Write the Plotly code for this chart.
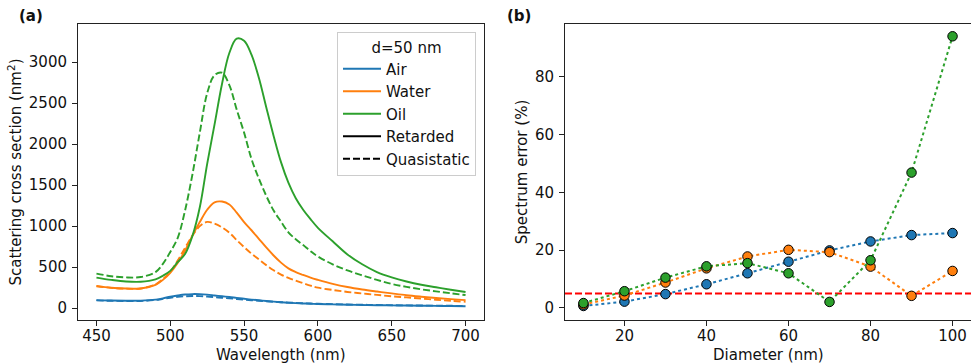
import plotly.graph_objects as go

# ---------------- Panel (a) data ----------------
wavelength = [450, 460, 470, 480, 490, 495, 500, 505, 510, 515, 520, 525, 530, 535, 540,
              545, 550, 555, 560, 565, 570, 575, 580, 585, 590, 595, 600, 610, 620, 630, 640, 650,
              660, 670, 680, 690, 700]

air_ret = [98, 93, 91, 92, 104, 120, 140, 155, 167, 172, 171, 165, 155, 145, 136,
           125, 115, 105, 96, 88, 80, 73, 67, 62, 58, 54, 51, 47, 42, 39, 36, 34,
           32, 30, 28, 26, 24]
air_qs = [95, 90, 87, 88, 100, 113, 127, 138, 145, 148, 147, 142, 135, 127, 120,
          112, 104, 97, 90, 84, 78, 73, 68, 64, 60, 57, 54, 49, 45, 42, 39, 36,
          34, 32, 31, 29, 28]
water_ret = [272, 250, 240, 240, 285, 345, 430, 550, 700, 885, 1050, 1200, 1290, 1300, 1265,
             1165, 1050, 950, 845, 740, 642, 555, 485, 440, 405, 372, 345, 297, 258, 228, 203, 180,
             158, 140, 124, 110, 98]
water_qs = [268, 248, 238, 240, 290, 355, 445, 580, 735, 885, 1000, 1052, 1030, 985, 920,
            830, 745, 665, 595, 525, 462, 410, 370, 335, 305, 275, 250, 222, 198, 180, 162, 145,
            132, 118, 103, 90, 78]
oil_ret = [373, 345, 325, 322, 352, 395, 455, 560, 660, 880, 1230, 1760, 2240, 2730, 3110,
           3285, 3260, 3090, 2810, 2450, 2100, 1780, 1530, 1340, 1200, 1085, 980, 815, 655, 535, 440, 375,
           325, 285, 255, 225, 197]
oil_qs = [422, 390, 375, 380, 440, 540, 685, 855, 1190, 1630, 2140, 2620, 2840, 2870, 2720,
          2420, 2140, 1820, 1580, 1370, 1190, 1055, 925, 840, 770, 695, 630, 535, 460, 400, 345, 295,
          260, 230, 205, 182, 160]

# ---------------- Panel (b) data ----------------
diameter = [10, 20, 30, 40, 50, 60, 70, 80, 90, 100]
err_air = [0.7, 2.2, 4.8, 8.2, 12.0, 16.0, 19.9, 23.0, 25.2, 25.9]
err_water = [1.2, 4.3, 8.8, 13.7, 17.8, 20.1, 19.3, 14.3, 4.2, 12.8]
err_oil = [1.7, 5.8, 10.5, 14.4, 15.5, 12.0, 2.1, 16.5, 46.8, 93.9]
threshold = 5

BLUE, ORANGE, GREEN = "#1f77b4", "#ff7f0e", "#2ca02c"
FONT = "DejaVu Sans"
FS = 15
DASH = "7px,3px"

fig = go.Figure()

for ret, qs, col in [(air_ret, air_qs, BLUE), (water_ret, water_qs, ORANGE), (oil_ret, oil_qs, GREEN)]:
    fig.add_trace(go.Scatter(x=wavelength, y=ret, mode="lines", showlegend=False,
                             line=dict(color=col, width=1.9, shape="spline", smoothing=1.0),
                             xaxis="x", yaxis="y"))
    fig.add_trace(go.Scatter(x=wavelength, y=qs, mode="lines", showlegend=False,
                             line=dict(color=col, width=1.9, dash=DASH, shape="spline", smoothing=1.0),
                             xaxis="x", yaxis="y"))

# legend entries
for name, col, dash in [("Air", BLUE, "solid"), ("Water", ORANGE, "solid"), ("Oil", GREEN, "solid"),
                        ("Retarded", "black", "solid"), ("Quasistatic", "black", DASH)]:
    fig.add_trace(go.Scatter(x=[None], y=[None], mode="lines", name=name,
                             line=dict(color=col, width=1.9, dash=dash), xaxis="x", yaxis="y"))

for err, col in [(err_air, BLUE), (err_water, ORANGE), (err_oil, GREEN)]:
    fig.add_trace(go.Scatter(x=diameter, y=err, mode="lines+markers", showlegend=False,
                             line=dict(color=col, width=2, dash="dot"),
                             marker=dict(color=col, size=9.5, line=dict(color="black", width=1)),
                             xaxis="x2", yaxis="y2"))

fig.add_shape(type="line", xref="x2 domain", yref="y2", x0=0, x1=1, y0=threshold, y1=threshold,
              line=dict(color="red", width=1.9, dash=DASH), layer="below")

axis_common = dict(showline=True, mirror=True, linecolor="#222", linewidth=1,
                   ticks="outside", ticklen=5, tickwidth=1, tickcolor="#222",
                   showgrid=False, zeroline=False,
                   tickfont=dict(family=FONT, size=FS, color="#111"))

fig.update_layout(
    width=971, height=364,
    margin=dict(l=0, r=0, t=0, b=0, autoexpand=False),
    paper_bgcolor="white", plot_bgcolor="white",
    font=dict(family=FONT, size=FS, color="#111"),
    xaxis=dict(domain=[78 / 971, 484 / 971], range=[437.5, 712.5], tickvals=[450, 500, 550, 600, 650, 700],
               ticklabelstandoff=-3, anchor="y", **axis_common),
    yaxis=dict(domain=[44 / 364, 340 / 364], range=[-144, 3464], tickvals=[0, 500, 1000, 1500, 2000, 2500, 3000],
               ticklabelstandoff=2,
               title=dict(text="Scattering cross section (nm<sup>2</sup>)", standoff=3, font=dict(size=FS)),
               anchor="x", **axis_common),
    xaxis2=dict(domain=[565 / 971, 1.0], range=[5.5, 104.5], tickvals=[20, 40, 60, 80, 100],
                ticklabelstandoff=-3, anchor="y2", **axis_common),
    yaxis2=dict(domain=[44 / 364, 340 / 364], range=[-4.15, 98.15], tickvals=[0, 20, 40, 60, 80],
                ticklabelstandoff=2,
                title=dict(text="Spectrum error (%)", standoff=3, font=dict(size=FS)), anchor="x2", **axis_common),
    legend=dict(x=476 / 971, xanchor="right", y=(364 - 32) / 364, yanchor="top",
                bgcolor="rgba(255,255,255,0.8)", bordercolor="#cccccc", borderwidth=1,
                font=dict(family=FONT, size=FS, color="#111"),
                title=dict(text="d=50 nm", side="top center", font=dict(family=FONT, size=FS)),
                itemwidth=38, tracegroupgap=0),
    annotations=[
        dict(text="<b>(a)</b>", x=17 / 971, y=(364 - 16) / 364, xref="paper", yref="paper",
             xanchor="left", yanchor="middle", showarrow=False, font=dict(family=FONT, size=FS, color="#111")),
        dict(text="<b>(b)</b>", x=505 / 971, y=(364 - 16) / 364, xref="paper", yref="paper",
             xanchor="left", yanchor="middle", showarrow=False, font=dict(family=FONT, size=FS, color="#111")),
        dict(text="Wavelength (nm)", x=281 / 971, y=(364 - 355) / 364, xref="paper", yref="paper",
             xanchor="center", yanchor="middle", showarrow=False, font=dict(family=FONT, size=FS, color="#111")),
        dict(text="Diameter (nm)", x=768 / 971, y=(364 - 355) / 364, xref="paper", yref="paper",
             xanchor="center", yanchor="middle", showarrow=False, font=dict(family=FONT, size=FS, color="#111")),
    ],
)

fig.write_html("out.html")
